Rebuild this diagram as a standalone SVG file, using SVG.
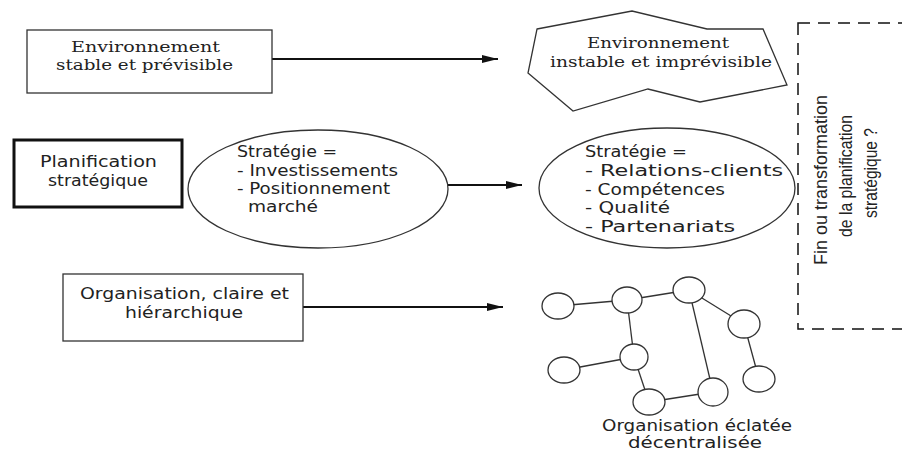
<svg xmlns="http://www.w3.org/2000/svg" width="902" height="452" viewBox="0 0 902 452">
<style>
  .box{fill:#fff;stroke:#333;stroke-width:1.3}
  .thick{fill:#fff;stroke:#111;stroke-width:3}
  .shape{fill:#fff;stroke:#333;stroke-width:1.3}
  .serif{font-family:"DejaVu Serif","Liberation Serif",serif;font-size:15.5px;fill:#222}
  .sans{font-family:"DejaVu Sans","Liberation Sans",sans-serif;font-size:16px;fill:#222}
  .vert{font-family:"Liberation Sans","DejaVu Sans",sans-serif;font-size:18px;fill:#222;text-anchor:middle}
  .conn{stroke:#111;stroke-width:1.8;fill:none}
  .net{stroke:#333;stroke-width:1.3;fill:none}
  .circ{fill:#fff;stroke:#333;stroke-width:1.3}
</style>
<defs>
  <marker id="arr" viewBox="0 0 16 8" refX="16" refY="4" markerWidth="16" markerHeight="8" markerUnits="userSpaceOnUse" orient="auto">
    <path d="M0,0 L16,4 L0,8 Z" fill="#111"/>
  </marker>
</defs>
<rect width="902" height="452" fill="#fff"/>

<g id="connectors">
  <line class="conn" x1="272" y1="59" x2="498" y2="59" marker-end="url(#arr)"/>
  <line class="conn" x1="448" y1="185" x2="522" y2="185" marker-end="url(#arr)"/>
  <line class="conn" x1="303" y1="307" x2="503" y2="307" marker-end="url(#arr)"/>
</g>

<g id="env-stable">
  <rect class="box" x="27" y="30" width="245" height="63"/>
  <text class="serif" x="71" y="52" textLength="149" lengthAdjust="spacingAndGlyphs">Environnement</text>
  <text class="serif" x="56" y="70" textLength="177" lengthAdjust="spacingAndGlyphs">stable et prévisible</text>
</g>

<g id="env-instable">
  <polygon class="shape" points="537,29 632,11 707,29 763,29 787,85 700,102 648,89 573,111 528,73"/>
  <text class="serif" x="587" y="48" textLength="142" lengthAdjust="spacingAndGlyphs">Environnement</text>
  <text class="serif" x="550" y="67" textLength="222" lengthAdjust="spacingAndGlyphs">instable et imprévisible</text>
</g>

<g id="planification">
  <rect class="thick" x="14" y="140" width="168" height="67"/>
  <text class="sans" x="40" y="167" textLength="117" lengthAdjust="spacingAndGlyphs">Planification</text>
  <text class="sans" x="48" y="186" textLength="100" lengthAdjust="spacingAndGlyphs">stratégique</text>
</g>

<g id="strategie-1">
  <ellipse class="shape" cx="318" cy="189" rx="130" ry="59"/>
  <text class="sans" x="237" y="157" textLength="100" lengthAdjust="spacingAndGlyphs">Stratégie =</text>
  <text class="sans" x="237" y="176" textLength="161" lengthAdjust="spacingAndGlyphs">- Investissements</text>
  <text class="sans" x="237" y="194" textLength="153" lengthAdjust="spacingAndGlyphs">- Positionnement</text>
  <text class="sans" x="248" y="212" textLength="70" lengthAdjust="spacingAndGlyphs">marché</text>
</g>

<g id="strategie-2">
  <ellipse class="shape" cx="667" cy="188" rx="128" ry="60"/>
  <text class="sans" x="585" y="157" textLength="102" lengthAdjust="spacingAndGlyphs">Stratégie =</text>
  <text class="sans" x="585" y="176" textLength="198" lengthAdjust="spacingAndGlyphs">- Relations-clients</text>
  <text class="sans" x="585" y="195" textLength="140" lengthAdjust="spacingAndGlyphs">- Compétences</text>
  <text class="sans" x="585" y="213" textLength="85" lengthAdjust="spacingAndGlyphs">- Qualité</text>
  <text class="sans" x="585" y="232" textLength="150" lengthAdjust="spacingAndGlyphs">- Partenariats</text>
</g>

<g id="fin-planification">
  <rect x="798" y="23" width="130" height="306" fill="none" stroke="#111" stroke-width="1.5" stroke-dasharray="12 8"/>
  <text class="vert" transform="translate(827,180) rotate(-90)" textLength="170" lengthAdjust="spacingAndGlyphs">Fin ou transformation</text>
  <text class="vert" transform="translate(852,176) rotate(-90)" textLength="122" lengthAdjust="spacingAndGlyphs">de la planification</text>
  <text class="vert" transform="translate(877,173) rotate(-90)" textLength="90" lengthAdjust="spacingAndGlyphs">stratégique ?</text>
</g>

<g id="organisation-hierarchique">
  <rect class="box" x="63" y="274" width="240" height="67"/>
  <text class="sans" x="80" y="299" textLength="209" lengthAdjust="spacingAndGlyphs">Organisation, claire et</text>
  <text class="sans" x="125" y="318" textLength="118" lengthAdjust="spacingAndGlyphs">hiérarchique</text>
</g>

<g id="organisation-eclatee">
  <g class="net">
    <line x1="558" y1="306" x2="627" y2="300"/>
    <line x1="627" y1="300" x2="689" y2="290"/>
    <line x1="689" y1="290" x2="744" y2="324"/>
    <line x1="627" y1="300" x2="634" y2="357"/>
    <line x1="564" y1="370" x2="634" y2="357"/>
    <line x1="634" y1="357" x2="649" y2="402"/>
    <line x1="649" y1="402" x2="713" y2="392"/>
    <line x1="689" y1="290" x2="713" y2="392"/>
    <line x1="744" y1="324" x2="759" y2="379"/>
  </g>
  <ellipse class="circ" cx="558" cy="306" rx="16" ry="13"/>
  <ellipse class="circ" cx="627" cy="300" rx="15" ry="13"/>
  <ellipse class="circ" cx="689" cy="290" rx="16" ry="13"/>
  <ellipse class="circ" cx="744" cy="324" rx="16" ry="14"/>
  <ellipse class="circ" cx="564" cy="370" rx="16" ry="13"/>
  <ellipse class="circ" cx="634" cy="357" rx="14" ry="13"/>
  <ellipse class="circ" cx="649" cy="402" rx="16" ry="13"/>
  <ellipse class="circ" cx="713" cy="392" rx="15" ry="14"/>
  <ellipse class="circ" cx="759" cy="379" rx="16" ry="13"/>
  <text class="sans" x="602" y="431" textLength="190" lengthAdjust="spacingAndGlyphs" style="font-size:15px">Organisation éclatée</text>
  <text class="sans" x="628" y="448" textLength="134" lengthAdjust="spacingAndGlyphs" style="font-size:15px">décentralisée</text>
</g>
</svg>
